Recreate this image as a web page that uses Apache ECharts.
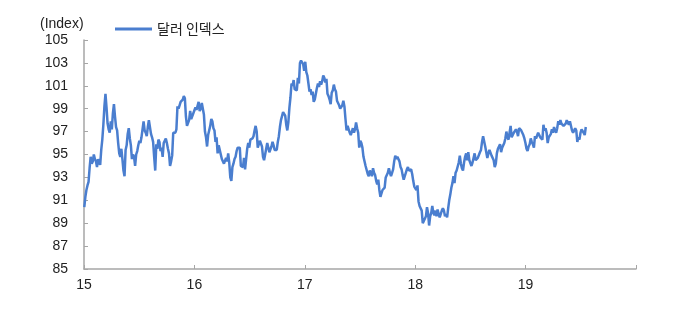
<!DOCTYPE html>
<html><head><meta charset="utf-8">
<script src="https://cdn.jsdelivr.net/npm/echarts@6/dist/echarts.min.js"></script>
<style>html,body{margin:0;padding:0;background:#fff}#c{width:677px;height:310px}</style>
</head><body><div id="c"></div>
<script>
// Dollar index readings twice a week (Friday, then mid-week), starting 2015-01-02
const firstDay = '2015-01-02';
const stepDays = 3.5;
const dxy2015 = [
  90.4, 91.3, 91.9, 92.3, 92.6, 93.8, 94.8, 94.2, 94.4, 95.0,
  94.6, 94.4, 93.9, 94.6, 94.3, 94.1, 95.4, 96.3,
  97.6, 99.2, 100.3, 99.1, 97.7, 97.2, 96.9, 97.9,
  97.2, 98.6, 99.4, 98.3, 97.4, 97.1, 96.0, 95.1,
  94.8, 95.5, 94.6, 93.6, 93.1, 95.4, 95.8, 96.8, 97.3, 96.4,
  95.8, 94.6, 95.0, 94.8, 94.0, 95.0, 95.3, 95.8,
  96.2, 96.0, 96.5, 97.2, 97.9, 97.1, 96.9, 96.6, 97.4, 98.0,
  97.9, 96.8, 96.5, 96.1, 94.8, 93.6, 95.9, 95.5,
  96.3, 96.1, 95.3, 95.6, 94.8, 96.0, 96.2, 96.4,
  96.0, 95.5, 95.1, 94.0, 94.4, 94.9, 96.9, 97.0, 96.9, 97.2,
  99.2, 99.0, 99.3, 99.6, 99.6, 99.8, 100.1, 99.9,
  98.3, 97.5, 97.6, 98.0, 98.8, 98.1, 98.1, 98.6];
const dxy2016 = [
  98.7, 99.1, 98.9, 98.8, 99.6, 98.8, 99.0, 99.5, 99.6, 98.5,
  97.0, 96.5, 95.7, 96.7, 96.6, 97.5, 98.1, 97.9,
  97.3, 97.1, 96.1, 96.5, 95.1, 95.8, 95.9, 95.0,
  94.6, 94.5, 94.2, 94.3, 94.7, 94.4, 95.1, 94.3, 93.0, 92.7,
  93.9, 94.2, 94.6, 94.8, 95.3, 95.6, 95.5, 95.6,
  94.0, 93.9, 93.9, 94.7, 93.7, 93.6, 95.5, 96.0,
  95.6, 96.3, 96.3, 96.4, 96.6, 97.1, 97.5, 97.0, 95.6, 95.7,
  96.2, 96.1, 95.7, 94.8, 94.5, 94.6, 95.5, 96.0,
  95.9, 95.2, 95.3, 95.7, 96.1, 95.8, 95.4, 95.5, 95.4, 96.1,
  96.6, 97.4, 98.0, 97.9, 98.7, 98.8, 98.4, 97.6,
  97.1, 97.8, 99.1, 100.0, 101.2, 101.0, 101.5, 100.7,
  100.7, 100.6, 101.7, 101.2, 103.0, 103.2, 103.1, 102.9, 102.3, 103.1];
const dxy2017 = [
  102.2, 101.9, 101.2, 100.5, 100.7, 100.2, 100.5, 99.6,
  99.8, 100.3, 100.8, 101.2, 100.9, 101.4, 101.1, 101.4,
  101.9, 101.7, 101.3, 101.6, 100.3, 100.1, 99.8, 99.4, 100.4, 100.6,
  101.1, 100.7, 100.5, 99.7, 99.8, 99.3, 99.0, 99.1,
  99.3, 99.7, 99.2, 98.1, 97.1, 97.5, 97.4, 96.9,
  96.7, 96.8, 97.3, 96.9, 97.2, 97.8, 97.3, 96.9, 95.6, 96.2,
  96.0, 95.6, 94.8, 94.9, 94.0, 93.9, 93.3, 93.1,
  93.6, 93.4, 93.1, 93.8, 93.4, 93.2, 92.7, 92.4,
  92.8, 91.9, 91.3, 91.6, 91.9, 92.0, 92.1, 93.0, 93.1, 93.4,
  93.8, 93.4, 93.1, 93.4, 93.7, 94.4, 94.9, 94.6,
  94.8, 94.9, 94.4, 93.9, 93.7, 93.2, 92.8, 93.1,
  93.1, 93.7, 93.9, 93.6, 93.5, 93.7, 93.3, 92.7, 92.2, 92.1];
const dxy2018 = [
  91.9, 92.3, 90.9, 90.5, 90.6, 90.1, 89.0, 89.2,
  89.2, 89.6, 90.4, 89.9, 88.8, 89.6, 89.9, 90.5,
  89.9, 89.7, 90.1, 89.6, 90.2, 89.8, 89.5, 89.4, 90.1, 90.3,
  90.1, 89.6, 89.8, 89.5, 90.3, 91.0, 91.5, 92.1,
  92.5, 93.1, 92.5, 93.4, 93.6, 93.7, 94.3, 94.9,
  94.2, 93.8, 93.6, 94.3, 94.8, 95.1, 94.5, 95.2, 94.5, 94.6,
  94.0, 94.3, 94.7, 95.1, 94.5, 94.4, 94.7, 94.6,
  95.2, 95.4, 96.1, 96.6, 96.5, 95.7, 95.2, 94.7, 95.1, 95.4,
  95.4, 94.9, 94.9, 94.5, 93.9, 94.2, 95.1, 95.5,
  95.6, 95.9, 95.2, 95.6, 95.7, 96.0, 96.4, 97.0,
  96.5, 96.3, 96.9, 97.5, 96.5, 96.6, 96.9, 96.8, 97.2, 97.0,
  96.6, 97.3, 97.4, 97.1, 96.9, 96.7, 96.4, 96.0];
const dxy2019 = [
  95.5, 95.3, 95.7, 95.9, 96.4, 96.1, 95.9, 95.6,
  96.6, 96.4, 96.5, 96.9, 97.0, 96.5, 96.6, 96.3,
  97.6, 97.1, 97.3, 96.9, 96.0, 96.5, 96.6, 96.8, 97.2, 96.9,
  97.4, 97.1, 96.9, 97.3, 97.9, 97.6, 98.0, 97.7,
  97.6, 97.5, 97.4, 97.7, 98.0, 98.1, 97.6, 97.9, 97.8, 97.1,
  96.9, 96.8, 97.3, 97.1, 96.1, 96.5, 96.3, 96.9,
  97.2, 97.3, 96.9, 96.7, 97.4];
const yearTicks = ['15', '16', '17', '18', '19'];
const seriesName = '달러 인덱스';
const unitLabel = '(Index)';

const values = [].concat(dxy2015, dxy2016, dxy2017, dxy2018, dxy2019);
const t0 = Date.parse(firstDay + 'T00:00:00Z');
const data = values.map((v, i) => {
  const d = new Date(t0 + i * stepDays * 864e5);
  const y = d.getUTCFullYear();
  const s = Date.UTC(y, 0, 1), e = Date.UTC(y + 1, 0, 1);
  return [y - 2000 + (d.getTime() - s) / (e - s), v];
});

const axisCol = '#a6a6a6';
const font = '"Liberation Sans", Arial, "Noto Sans CJK KR", sans-serif';
const chart = echarts.init(document.getElementById('c'), null, {renderer: 'canvas'});
chart.setOption({
  animation: false,
  textStyle: {fontFamily: font},
  title: {text: unitLabel, left: 40, top: 17, padding: 0,
    textStyle: {fontSize: 14, fontWeight: 'normal', color: '#222', fontFamily: font}},
  legend: {
    data: [seriesName], left: 115, top: 22, padding: 0, icon: 'rect', itemWidth: 37, itemHeight: 3,
    textStyle: {fontSize: 14, color: '#222', fontFamily: '"Noto Sans CJK KR", sans-serif'}
  },
  grid: {left: 84, right: 41, top: 40, bottom: 41},
  xAxis: {
    type: 'value', min: 15, max: 20, interval: 1,
    axisLine: {lineStyle: {color: axisCol, width: 1.5}},
    axisTick: {inside: true, length: 4, lineStyle: {color: axisCol}},
    splitLine: {show: false},
    axisLabel: {margin: 9, fontSize: 14, color: '#222',
      formatter: v => yearTicks[Math.round(v) - 15] || ''}
  },
  yAxis: {
    type: 'value', min: 85, max: 105, interval: 2,
    axisLine: {show: true, lineStyle: {color: axisCol, width: 1.5}},
    axisTick: {show: true, inside: true, length: 4, lineStyle: {color: axisCol}},
    splitLine: {show: false},
    axisLabel: {margin: 16, fontSize: 14, color: '#222'}
  },
  series: [{
    name: seriesName, type: 'line', data: data, symbol: 'none', smooth: false,
    lineStyle: {width: 2.5, color: '#4a7ecf'}, itemStyle: {color: '#4a7ecf'}
  }]
});
</script>
</body></html>
